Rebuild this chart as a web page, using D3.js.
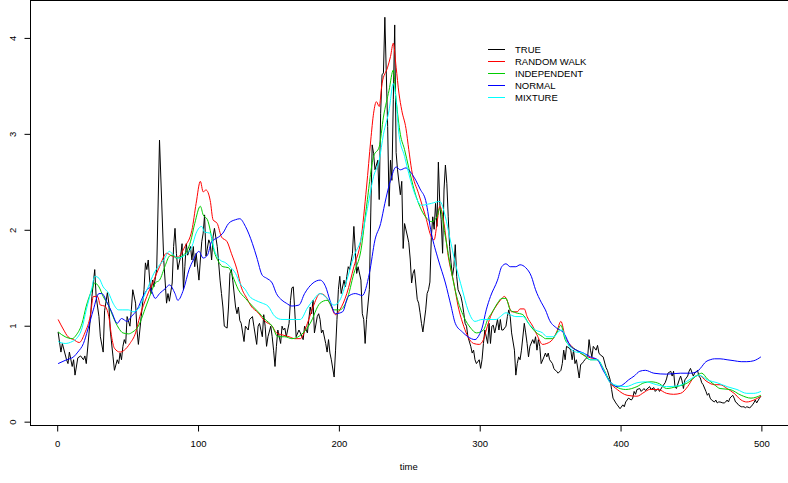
<!DOCTYPE html>
<html>
<head>
<meta charset="utf-8">
<script src="https://cdn.jsdelivr.net/npm/d3@7"></script>
<style>
  body { margin: 0; background: #fff; }
  svg { display: block; font-family: "Liberation Sans", Arial, Helvetica, sans-serif; }
</style>
</head>
<body>
<svg id="chart" width="788" height="483"></svg>
<script>
// Observed series and the four model estimates, as [time, value] pairs.
const trueSeries = [[1,0.93],[3,0.72],[4,0.81],[7,0.64],[8,0.60],[9,0.72],[11,0.57],[12,0.64],[13,0.48],[15,0.66],[17,0.68],[19,0.64],[20,0.68],[21,0.60],[24,1.09],[25,1.30],[27,1.58],[28,1.30],[30,1.09],[31,0.88],[33,0.72],[34,1.15],[36,1.34],[37,1.23],[38,0.95],[40,0.67],[41,0.53],[43,0.64],[44,0.60],[45,0.71],[46,0.64],[47,0.78],[48,0.85],[49,0.81],[50,1.09],[52,0.99],[53,1.16],[54,1.37],[56,1.23],[57,0.95],[58,0.80],[60,1.09],[62,1.37],[63,1.65],[64,1.58],[65,1.68],[66,1.47],[67,1.33],[68,1.47],[69,1.40],[71,1.58],[73,2.93],[76,1.68],[78,1.23],[79,1.33],[80,1.25],[82,1.44],[83,1.82],[84,2.01],[85,1.75],[86,1.58],[88,1.72],[89,1.85],[90,1.37],[91,1.61],[92,1.85],[93,1.73],[95,1.82],[96,1.68],[97,1.82],[98,1.61],[99,1.75],[101,1.47],[102,1.68],[103,1.87],[104,1.96],[105,2.15],[106,1.72],[108,1.89],[109,1.85],[110,1.68],[111,1.92],[112,2.01],[114,1.82],[115,1.65],[116,1.47],[117,1.33],[118,1.19],[119,0.99],[121,0.97],[122,1.19],[123,1.54],[124,1.58],[125,1.47],[127,1.19],[128,1.12],[129,1.19],[130,1.05],[131,1.02],[133,0.83],[134,0.99],[136,0.95],[137,1.06],[139,1.09],[140,0.99],[142,0.80],[143,0.99],[144,1.02],[146,0.88],[147,1.11],[148,0.99],[149,0.78],[150,0.88],[152,0.99],[153,0.88],[154,0.74],[155,0.57],[156,0.78],[157,0.95],[159,0.81],[160,0.99],[161,0.95],[162,0.97],[163,0.88],[165,1.02],[166,1.26],[167,1.39],[168,1.40],[169,1.16],[170,0.88],[172,0.95],[173,0.92],[175,0.85],[176,0.99],[178,0.92],[179,1.06],[180,1.19],[181,1.12],[182,1.26],[183,0.92],[185,1.09],[186,1.12],[187,1.06],[188,0.92],[189,0.95],[191,0.81],[192,0.72],[193,0.85],[194,0.71],[195,0.64],[197,0.46],[198,0.74],[199,1.06],[200,1.37],[201,1.51],[202,1.33],[204,1.47],[205,1.40],[206,1.51],[207,1.61],[208,1.58],[210,1.75],[211,2.03],[212,1.78],[213,1.54],[214,1.61],[216,1.47],[217,1.12],[218,1.06],[219,0.81],[220,1.06],[222,1.37],[223,2.17],[224,2.88],[225,2.79],[226,2.62],[228,2.72],[229,2.31],[230,3.21],[231,3.61],[232,3.63],[233,4.21],[235,3.07],[236,2.24],[237,2.72],[238,2.51],[239,3.35],[240,4.13],[241,2.80],[242,2.62],[244,2.36],[245,2.50],[246,1.80],[247,2.06],[249,1.93],[250,1.86],[251,1.69],[252,1.44],[253,1.54],[254,1.58],[256,1.27],[257,1.23],[258,1.13],[259,1.02],[260,0.93],[262,1.16],[263,1.33],[264,1.37],[265,1.45],[266,1.92],[267,2.13],[268,2.00],[269,2.27],[270,2.03],[271,2.70],[272,2.27],[273,2.10],[274,1.75],[275,2.41],[276,2.67],[277,2.48],[278,2.13],[279,1.82],[280,1.65],[281,1.51],[282,1.61],[283,1.84],[284,1.51],[285,1.37],[287,1.30],[288,1.23],[289,1.13],[290,1.02],[291,0.99],[292,0.88],[294,0.78],[295,0.71],[296,0.74],[297,0.64],[298,0.60],[300,0.64],[301,0.55],[302,0.64],[303,0.81],[304,0.95],[306,0.81],[307,1.02],[308,0.81],[309,0.99],[310,1.00],[311,0.92],[313,1.06],[314,0.95],[315,1.06],[316,0.95],[317,0.95],[319,0.99],[320,1.09],[321,1.16],[322,1.09],[323,0.92],[325,0.74],[326,0.48],[327,0.60],[328,0.67],[329,0.64],[330,0.74],[332,1.02],[333,0.92],[334,0.81],[335,0.67],[336,0.78],[338,0.85],[339,0.81],[340,0.88],[341,0.74],[342,0.85],[343,0.78],[344,0.60],[346,0.67],[347,0.71],[348,0.67],[349,0.71],[350,0.64],[352,0.60],[353,0.55],[354,0.53],[355,0.52],[356,0.50],[358,0.53],[359,0.60],[360,0.74],[361,0.64],[362,0.78],[364,0.76],[365,0.74],[366,0.64],[367,0.74],[368,0.60],[369,0.64],[371,0.45],[372,0.59],[373,0.60],[374,0.62],[375,0.64],[377,0.67],[378,0.85],[379,0.74],[380,0.67],[381,0.78],[383,0.74],[384,0.79],[385,0.71],[386,0.69],[388,0.67],[390,0.56],[391,0.53],[392,0.48],[393,0.43],[394,0.33],[395,0.24],[397,0.19],[398,0.17],[400,0.13],[402,0.17],[403,0.15],[404,0.20],[405,0.22],[406,0.24],[408,0.22],[409,0.24],[410,0.31],[411,0.28],[412,0.33],[414,0.34],[415,0.31],[417,0.34],[418,0.32],[421,0.36],[422,0.33],[424,0.35],[425,0.31],[427,0.34],[428,0.31],[430,0.36],[432,0.40],[433,0.44],[434,0.50],[436,0.52],[437,0.47],[438,0.52],[439,0.36],[440,0.34],[442,0.43],[443,0.47],[444,0.42],[445,0.34],[446,0.43],[448,0.47],[449,0.52],[450,0.55],[452,0.47],[453,0.50],[455,0.53],[456,0.47],[457,0.45],[458,0.40],[459,0.38],[461,0.31],[462,0.27],[463,0.29],[464,0.24],[465,0.22],[467,0.20],[468,0.22],[469,0.19],[470,0.20],[471,0.20],[473,0.19],[474,0.19],[475,0.20],[476,0.22],[477,0.20],[478,0.24],[480,0.27],[481,0.24],[482,0.20],[483,0.19],[484,0.17],[486,0.15],[487,0.15],[488,0.15],[489,0.14],[490,0.15],[492,0.14],[493,0.15],[494,0.17],[495,0.19],[496,0.22],[497,0.19],[499,0.24],[500,0.26]];

const randomWalk = [[1,1.06],[5,0.95],[8,0.88],[12,0.85],[16,0.82],[20,0.92],[24,1.11],[26,1.30],[29,1.30],[31,1.21],[34,1.20],[37,1.09],[39,0.88],[41,0.76],[45,0.72],[48,0.74],[52,0.81],[56,0.92],[59,1.09],[64,1.30],[69,1.47],[73,1.61],[78,1.75],[82,1.72],[86,1.71],[91,1.82],[96,1.99],[99,2.27],[102,2.50],[104,2.39],[106,2.41],[109,2.30],[111,2.10],[114,2.06],[117,1.92],[121,1.87],[124,1.75],[128,1.58],[131,1.40],[135,1.28],[138,1.20],[143,1.13],[148,1.04],[153,0.99],[156,0.92],[160,0.90],[165,0.88],[169,0.86],[173,0.86],[178,1.02],[182,1.19],[187,1.33],[191,1.30],[194,1.23],[198,1.11],[201,1.16],[206,1.33],[211,1.61],[216,1.89],[220,2.44],[223,2.93],[225,3.21],[227,3.33],[229,3.28],[231,3.52],[235,3.69],[237,3.80],[239,3.94],[241,3.69],[243,3.42],[245,3.24],[248,3.05],[250,2.83],[252,2.62],[257,2.37],[262,2.13],[266,1.92],[268,1.89],[270,2.06],[272,2.24],[275,2.06],[278,1.72],[282,1.44],[285,1.20],[289,0.99],[292,0.88],[296,0.81],[300,0.80],[303,0.85],[305,0.95],[308,1.09],[312,1.20],[315,1.26],[318,1.30],[320,1.25],[323,1.14],[327,1.14],[329,1.17],[332,1.17],[334,1.09],[338,0.99],[341,0.90],[345,0.80],[348,0.81],[352,0.85],[355,0.93],[358,1.04],[361,0.88],[365,0.79],[369,0.74],[374,0.69],[379,0.66],[384,0.64],[388,0.55],[393,0.40],[398,0.33],[405,0.27],[412,0.26],[417,0.30],[421,0.33],[427,0.33],[433,0.29],[438,0.28],[443,0.29],[448,0.36],[452,0.45],[456,0.48],[461,0.42],[467,0.38],[471,0.38],[476,0.34],[481,0.29],[486,0.22],[490,0.20],[495,0.22],[500,0.26]];

const independent = [[1,0.93],[6,0.88],[11,0.86],[14,0.90],[18,1.02],[21,1.20],[25,1.37],[27,1.44],[30,1.40],[33,1.30],[37,1.20],[40,1.09],[44,0.97],[47,0.92],[51,0.91],[54,0.93],[58,0.99],[62,1.14],[66,1.30],[70,1.44],[73,1.47],[77,1.62],[80,1.72],[82,1.73],[85,1.70],[90,1.73],[95,1.87],[98,2.06],[102,2.24],[104,2.15],[107,2.10],[109,1.99],[111,1.82],[115,1.66],[118,1.61],[122,1.60],[125,1.51],[129,1.37],[134,1.28],[139,1.20],[143,1.14],[148,1.06],[153,0.99],[157,0.88],[162,0.88],[167,0.86],[175,0.92],[180,1.02],[187,1.23],[192,1.26],[197,1.16],[201,1.16],[206,1.26],[211,1.54],[216,1.78],[220,2.24],[225,2.76],[229,2.86],[232,3.17],[236,3.45],[239,3.66],[241,3.35],[244,2.99],[247,2.83],[250,2.64],[254,2.40],[259,2.20],[263,2.11],[266,2.08],[270,2.13],[272,2.22],[276,1.92],[280,1.58],[284,1.30],[289,1.09],[294,0.97],[298,0.92],[303,0.95],[306,1.06],[309,1.13],[313,1.23],[316,1.28],[319,1.28],[322,1.16],[326,1.13],[331,1.11],[335,1.02],[340,0.93],[345,0.88],[347,0.86],[352,0.86],[355,0.92],[358,1.00],[361,0.85],[365,0.78],[369,0.74],[374,0.69],[379,0.64],[384,0.64],[388,0.55],[393,0.41],[397,0.36],[404,0.33],[412,0.36],[417,0.40],[422,0.41],[428,0.39],[433,0.34],[440,0.36],[448,0.40],[454,0.47],[458,0.50],[462,0.44],[467,0.38],[471,0.34],[478,0.33],[486,0.27],[493,0.24],[500,0.27]];

const normal = [[1,0.60],[7,0.64],[12,0.67],[15,0.72],[19,0.81],[22,0.95],[26,1.16],[30,1.33],[32,1.33],[36,1.23],[39,1.14],[43,1.02],[46,1.07],[50,1.04],[53,1.09],[57,1.16],[62,1.32],[66,1.39],[70,1.28],[73,1.33],[77,1.38],[80,1.42],[84,1.33],[86,1.26],[90,1.37],[94,1.58],[97,1.68],[101,1.77],[104,1.70],[107,1.73],[110,1.87],[115,1.92],[118,1.96],[122,2.06],[127,2.10],[130,2.11],[134,2.03],[139,1.85],[142,1.71],[146,1.52],[149,1.49],[153,1.44],[156,1.33],[160,1.26],[163,1.23],[167,1.20],[172,1.21],[176,1.33],[182,1.44],[187,1.47],[191,1.40],[194,1.26],[198,1.12],[203,1.14],[207,1.30],[212,1.33],[217,1.31],[222,1.54],[226,1.89],[230,2.06],[233,2.27],[237,2.51],[241,2.65],[244,2.62],[248,2.64],[251,2.60],[255,2.51],[258,2.42],[262,2.30],[266,1.96],[271,1.68],[276,1.44],[280,1.20],[283,1.02],[288,0.93],[292,0.88],[297,0.85],[300,0.90],[302,0.97],[305,1.16],[308,1.30],[313,1.47],[316,1.61],[319,1.64],[322,1.61],[326,1.61],[329,1.63],[333,1.60],[337,1.51],[340,1.37],[344,1.24],[347,1.16],[350,1.05],[355,0.97],[360,0.92],[365,0.78],[369,0.74],[374,0.71],[379,0.67],[384,0.64],[388,0.53],[393,0.41],[398,0.36],[402,0.38],[406,0.43],[410,0.47],[414,0.52],[418,0.53],[424,0.50],[433,0.49],[443,0.50],[450,0.50],[455,0.52],[457,0.55],[461,0.62],[464,0.64],[467,0.65],[471,0.65],[476,0.64],[481,0.63],[486,0.62],[490,0.62],[495,0.63],[500,0.67]];

const mixture = [[1,0.83],[6,0.81],[11,0.83],[14,0.86],[18,0.97],[21,1.16],[25,1.39],[27,1.51],[30,1.49],[33,1.40],[37,1.33],[40,1.23],[44,1.16],[47,1.16],[51,1.16],[54,1.14],[58,1.17],[62,1.30],[65,1.40],[69,1.54],[72,1.61],[76,1.68],[80,1.77],[83,1.73],[86,1.70],[91,1.73],[96,1.82],[99,1.96],[103,2.03],[105,1.97],[109,1.96],[112,1.78],[116,1.68],[120,1.65],[123,1.61],[127,1.54],[130,1.44],[134,1.37],[137,1.30],[141,1.26],[146,1.23],[150,1.20],[155,1.09],[160,1.06],[165,1.06],[173,1.06],[178,1.18],[182,1.26],[187,1.33],[192,1.28],[197,1.21],[201,1.26],[206,1.47],[211,1.72],[216,1.89],[220,2.17],[225,2.55],[229,2.72],[232,2.99],[236,3.24],[239,3.52],[241,3.35],[243,2.99],[247,2.76],[250,2.58],[254,2.38],[259,2.25],[263,2.26],[266,2.27],[272,2.29],[276,2.13],[279,1.92],[283,1.65],[288,1.37],[292,1.16],[297,1.04],[302,1.06],[307,1.06],[312,1.06],[315,1.09],[319,1.13],[322,1.11],[326,1.09],[331,1.09],[335,1.02],[340,0.95],[345,0.92],[348,0.88],[353,0.88],[356,0.93],[359,0.95],[362,0.83],[366,0.74],[369,0.72],[374,0.71],[379,0.64],[384,0.64],[388,0.55],[393,0.40],[396,0.38],[404,0.36],[412,0.40],[418,0.41],[426,0.38],[433,0.36],[442,0.37],[449,0.43],[456,0.48],[462,0.43],[469,0.40],[476,0.36],[483,0.33],[490,0.29],[495,0.29],[500,0.31]];

const legendLabels = ["TRUE", "RANDOM WALK", "INDEPENDENT", "NORMAL", "MIXTURE"];
const seriesColors = ["#000000", "#ff0000", "#00cd00", "#0000ff", "#00ffff"];
const xTicks = [0, 100, 200, 300, 400, 500];
const yTicks = [0, 1, 2, 3, 4];
const xLabel = "time";

const svg = d3.select("#chart");

// Plot region: axis limits padded by 4% of the data range on each side
const tMin = 1, tMax = 500;
const tPad = (tMax - tMin) * 0.04;
const x = d3.scaleLinear().domain([tMin - tPad, tMax + tPad]).range([30, 789]);
const y = d3.scaleLinear().domain([-0.04, 4.39]).range([425, 0]);

const plot = svg.append("g");

const lineTrue = d3.line().x(d => x(d[0])).y(d => y(d[1]));
const lineSmooth = d3.line().x(d => x(d[0])).y(d => y(d[1])).curve(d3.curveMonotoneX);

const allSeries = [trueSeries, randomWalk, independent, normal, mixture];
allSeries.forEach((s, i) => {
  plot.append("path")
    .datum(s)
    .attr("fill", "none")
    .attr("stroke", seriesColors[i])
    .attr("stroke-width", 1)
    .attr("stroke-linejoin", "round")
    .attr("d", i === 0 ? lineTrue : lineSmooth);
});

// Frame
const [x0, x1] = x.range();
const [yb, yt] = y.range();
svg.append("rect")
  .attr("x", x0 + 0.5).attr("y", yt + 0.5)
  .attr("width", x1 - x0).attr("height", yb - yt)
  .attr("fill", "none").attr("stroke", "#000").attr("stroke-width", 1);

// X axis
const gx = svg.append("g")
  .attr("transform", `translate(0.5,${yb + 0.5})`)
  .call(d3.axisBottom(x).tickValues(xTicks).tickSize(6).tickPadding(9).tickFormat(d3.format("d")));
gx.select(".domain").remove();
gx.selectAll(".tick line").attr("stroke", "#000");
gx.selectAll(".tick text").attr("font-size", "9.5px").attr("fill", "#000")
  .attr("font-family", "Liberation Sans, Arial, sans-serif");

// Y axis with labels running parallel to the axis
const gy = svg.append("g")
  .attr("transform", `translate(${x0 + 0.5},0.5)`)
  .call(d3.axisLeft(y).tickValues(yTicks).tickSize(6).tickFormat(d3.format("d")));
gy.select(".domain").remove();
gy.selectAll(".tick line").attr("stroke", "#000");
gy.selectAll(".tick text")
  .attr("x", 0).attr("y", -18).attr("dy", null)
  .attr("transform", "rotate(-90)")
  .attr("text-anchor", "middle")
  .attr("dominant-baseline", "central")
  .attr("font-size", "9.5px").attr("fill", "#000")
  .attr("font-family", "Liberation Sans, Arial, sans-serif");

// Axis title
svg.append("text")
  .attr("x", (x(0) + x(500)) / 2).attr("y", 470)
  .attr("text-anchor", "middle")
  .attr("font-size", "9.5px")
  .text(xLabel);

// Legend
const legend = svg.append("g").attr("transform", "translate(488,49)");
legendLabels.forEach((lab, i) => {
  const row = legend.append("g").attr("transform", `translate(0,${i * 12})`);
  row.append("line").attr("x1", 0).attr("x2", 17).attr("y1", 0.5).attr("y2", 0.5)
    .attr("stroke", seriesColors[i]).attr("stroke-width", 1);
  row.append("text").attr("x", 27).attr("y", 0)
    .attr("dominant-baseline", "central")
    .attr("font-size", "9.5px")
    .text(lab);
});
</script>
</body>
</html>
